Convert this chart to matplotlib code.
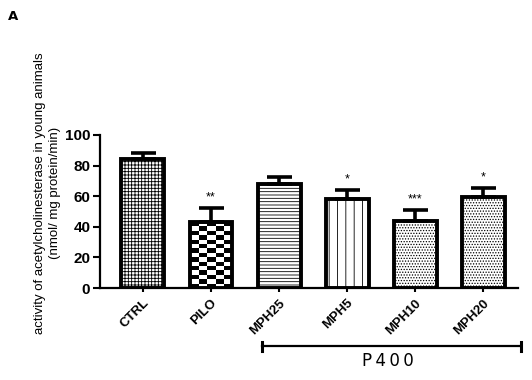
import matplotlib
matplotlib.use("Agg")
import matplotlib.pyplot as plt
import numpy as np

groups = ["CTRL", "PILO", "MPH25", "MPH5", "MPH10", "MPH20"]
means = [84, 43, 68, 58, 43.5, 59.5]
sems = [4.5, 9, 4.5, 6, 7.5, 5.5]
stars = ["", "**", "", "*", "***", "*"]
hatches = ["+++++", None, "-----", "||", "......", "......"]

plt.rcParams["font.family"] = ["Liberation Sans", "DejaVu Sans"]
plt.rcParams["hatch.linewidth"] = 0.6

fig = plt.figure(figsize=(5.32, 3.8), dpi=100)
ax = fig.add_axes([0.188, 0.242, 0.786, 0.403])

x = np.arange(len(groups))
bars = ax.bar(x, means, width=0.63, color="white", edgecolor="black",
              linewidth=2.8, zorder=2)
for b, h in zip(bars, hatches):
    if h:
        b.set_hatch(h)

# checkerboard fill for PILO
pb = bars[1]
pb.set_facecolor("none")
board = np.indices((15, 5)).sum(axis=0) % 2
im = ax.imshow(board, cmap="gray", interpolation="nearest", aspect="auto",
               extent=(pb.get_x(), pb.get_x() + pb.get_width(), 0, pb.get_height()),
               zorder=1.5)
im.set_clip_path(pb)

ax.errorbar(x, means, yerr=[np.zeros(len(sems)), sems], fmt="none",
            ecolor="black", elinewidth=2.6, capsize=9, capthick=2.6, zorder=3)
for xi, m, s, st in zip(x, means, sems, stars):
    if st:
        ax.text(xi, m + s + 3, st, ha="center", va="bottom", fontsize=9)

ax.set_xlim(-0.63, 5.51)
ax.set_ylim(0, 100)
ax.set_yticks([0, 20, 40, 60, 80, 100])
ax.set_xticks(x)
ax.set_xticklabels(groups, rotation=45, ha="right", rotation_mode="anchor",
                   fontsize=9.5, fontweight="bold")
for lab in ax.get_yticklabels():
    lab.set_fontweight("bold")
    lab.set_fontsize(11)
ax.tick_params(axis="y", width=1.5, length=5, pad=2)
ax.tick_params(axis="x", width=1.5, length=3)
for s in ["top", "right"]:
    ax.spines[s].set_visible(False)
for s in ["left", "bottom"]:
    ax.spines[s].set_linewidth(1.6)

ax.set_ylabel("activity of acetylcholinesterase in young animals\n(nmol/ mg protein/min)",
              fontsize=9.5, linespacing=1.3)
ax.yaxis.set_label_coords(-0.093, 0.62)

# P400 bracket
ax.plot([1.75, 5.55], [-38, -38], color="black", lw=1.6, clip_on=False)
for xe in (1.75, 5.55):
    ax.plot([xe, xe], [-41, -35], color="black", lw=2.2, clip_on=False)
ax.text(3.6, -42, "P\u20094\u20090\u20090", ha="center", va="top", fontsize=12,
        family="DejaVu Sans")

fig.text(0.015, 0.975, "A", fontsize=9.5, fontweight="bold", va="top",
         family="DejaVu Sans")

fig.savefig("out.png", dpi=100)
